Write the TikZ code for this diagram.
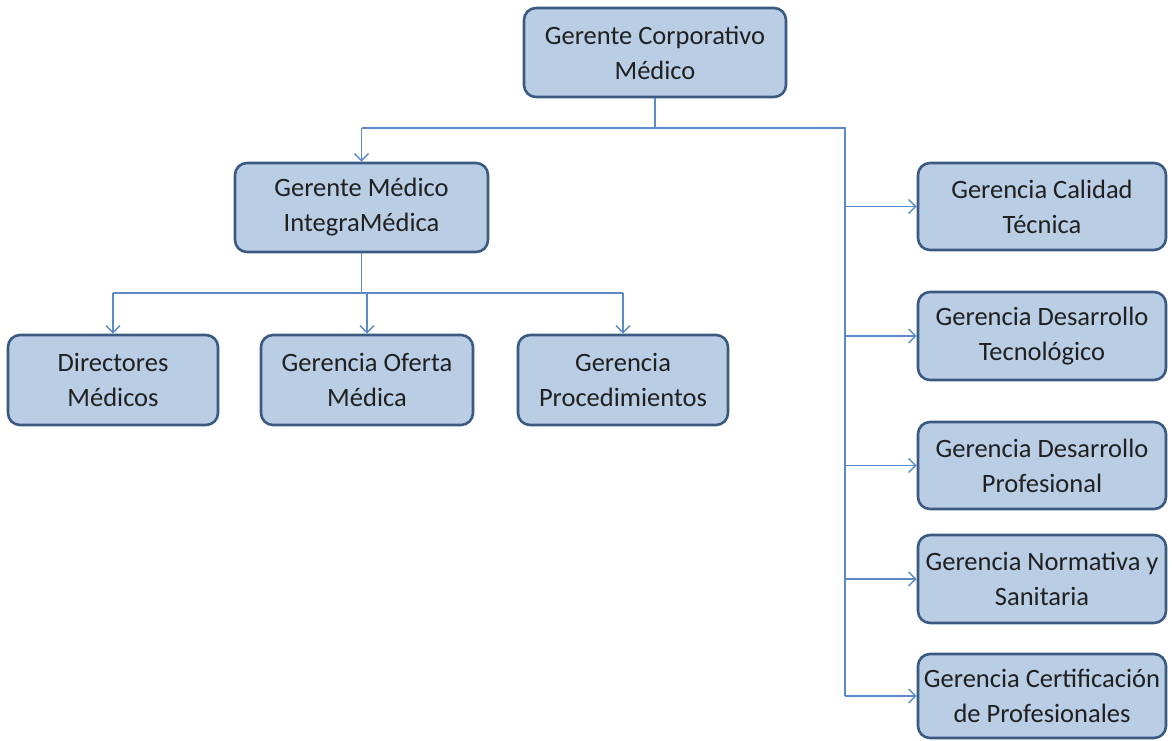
\documentclass[tikz,border=0pt]{standalone}
\usepackage{fontspec}
\setmainfont{Carlito}
\usetikzlibrary{arrows.meta}
\definecolor{boxfill}{HTML}{B9CDE5}
\definecolor{boxdraw}{HTML}{3A5A82}
\definecolor{linec}{HTML}{5B8BC6}
\definecolor{txt}{HTML}{202020}
\tikzset{
  box/.style={draw=boxdraw, fill=boxfill, line width=2.6pt, rounded corners=12pt,
    align=center, text=txt, font=\fontsize{26.5}{35}\selectfont, inner sep=0pt},
  conn/.style={draw=linec, line width=1.8pt},
  arr/.style={conn, -{Straight Barb[length=7pt, width=14pt, line width=1.4pt]}}
}
\begin{document}
\begin{tikzpicture}[x=1pt, y=-1pt]
\useasboundingbox (0,0) rectangle (1172,740);
\node[box, minimum width=262pt, minimum height=89pt] (top) at (655,52.5) {Gerente Corporativo\\Médico};
\node[box, minimum width=253pt, minimum height=89pt] (gm) at (361.5,207.5) {Gerente Médico\\IntegraMédica};
\node[box, minimum width=210pt, minimum height=90pt] (dir) at (113,380) {Directores\\Médicos};
\node[box, minimum width=212pt, minimum height=90pt] (of) at (367,380) {Gerencia Oferta\\Médica};
\node[box, minimum width=210pt, minimum height=90pt] (pro) at (623,380) {Gerencia\\Procedimientos};
\node[box, minimum width=248pt, minimum height=87pt] (cal) at (1042,206.5) {Gerencia Calidad\\Técnica};
\node[box, minimum width=248pt, minimum height=88pt] (tec) at (1042,336) {Gerencia Desarrollo\\Tecnológico};
\node[box, minimum width=248pt, minimum height=87pt] (prof) at (1042,465.5) {Gerencia Desarrollo\\Profesional};
\node[box, minimum width=248pt, minimum height=88pt] (nor) at (1042,579) {Gerencia Normativa y\\Sanitaria};
\node[box, minimum width=248pt, minimum height=84pt] (cer) at (1042,696) {Gerencia Certificación\\de Profesionales};

\coordinate (j1) at (655,128);
\coordinate (l1) at (361.5,128);
\coordinate (r1) at (845,128);
\coordinate (j2) at (361.5,293);
\draw[conn] (top.south) -- (j1);
\draw[conn] (l1) -- (r1) -- (845,696);
\draw[arr] (l1) -- (gm.north);
\draw[conn] (gm.south) -- (j2);
\draw[conn] (113,293) -- (623,293);
\draw[arr] (113,293) -- (dir.north);
\draw[arr] (367,293) -- (of.north);
\draw[arr] (623,293) -- (pro.north);
\draw[arr] (845,206.5) -- (cal.west);
\draw[arr] (845,336) -- (tec.west);
\draw[arr] (845,465.5) -- (prof.west);
\draw[arr] (845,579) -- (nor.west);
\draw[arr] (845,696) -- (cer.west);
\end{tikzpicture}
\end{document}
